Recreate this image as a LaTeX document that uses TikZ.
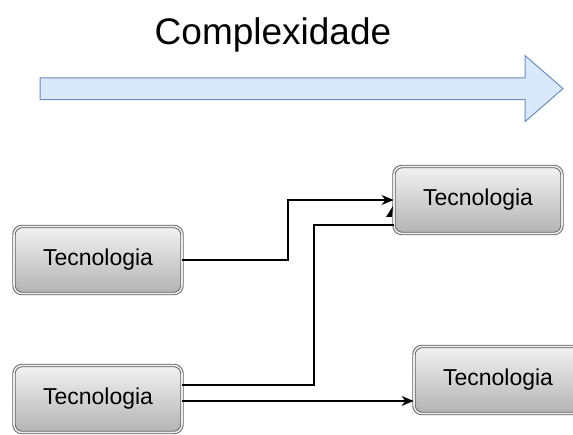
\documentclass[tikz,border=0pt]{standalone}
\usepackage{fontspec}
\setmainfont{Liberation Sans}
\usetikzlibrary{arrows.meta,calc}
\definecolor{arrfill}{HTML}{DAE8FC}
\definecolor{arrdraw}{HTML}{6C8EBF}
\tikzset{
  tbox/.style={rectangle, rounded corners=8pt, minimum width=168pt, minimum height=67pt,
    draw=black!62, double=black!8, double distance=1.6pt, line width=0.9pt,
    top color=black!5, bottom color=black!30, font=\fontsize{23}{27}\selectfont, inner sep=0pt},
  conn/.style={draw=black, line width=1.3pt},
  connarr/.style={conn, -{Stealth[length=12pt,width=10pt]}},
}
\begin{document}
\begin{tikzpicture}[x=1pt,y=-1pt]
\useasboundingbox (0,0) rectangle (573,435);
\node[font=\fontsize{37}{42}\selectfont, anchor=base] (title) at (273,45) {Complexidade};
\draw[fill=arrfill, draw=arrdraw, line width=1pt, line join=miter]
  (40,78) -- (525,78) -- (525,55.5) -- (563,88.6) -- (525,121.7) -- (525,99.6) -- (40,99.6) -- cycle;
\node[tbox] (b1) at (98,260) {Tecnologia};
\node[tbox] (b2) at (478,200) {Tecnologia};
\node[tbox] (b3) at (98,399) {Tecnologia};
\node[tbox] (b4) at (498,380) {Tecnologia};
\draw[connarr] (b1.east) -- (288,260) |- (b2.west);
\draw[conn] ([yshift=14pt]b3.east) -| (314,225) -- ([yshift=-25pt]b2.west);
\fill[black] (386,217) -- (393,206) -- (392,217) -- cycle;
\draw[connarr] ([yshift=-2pt]b3.east) -- ([yshift=-2pt]b3.east -| b4.west);
\end{tikzpicture}
\end{document}
